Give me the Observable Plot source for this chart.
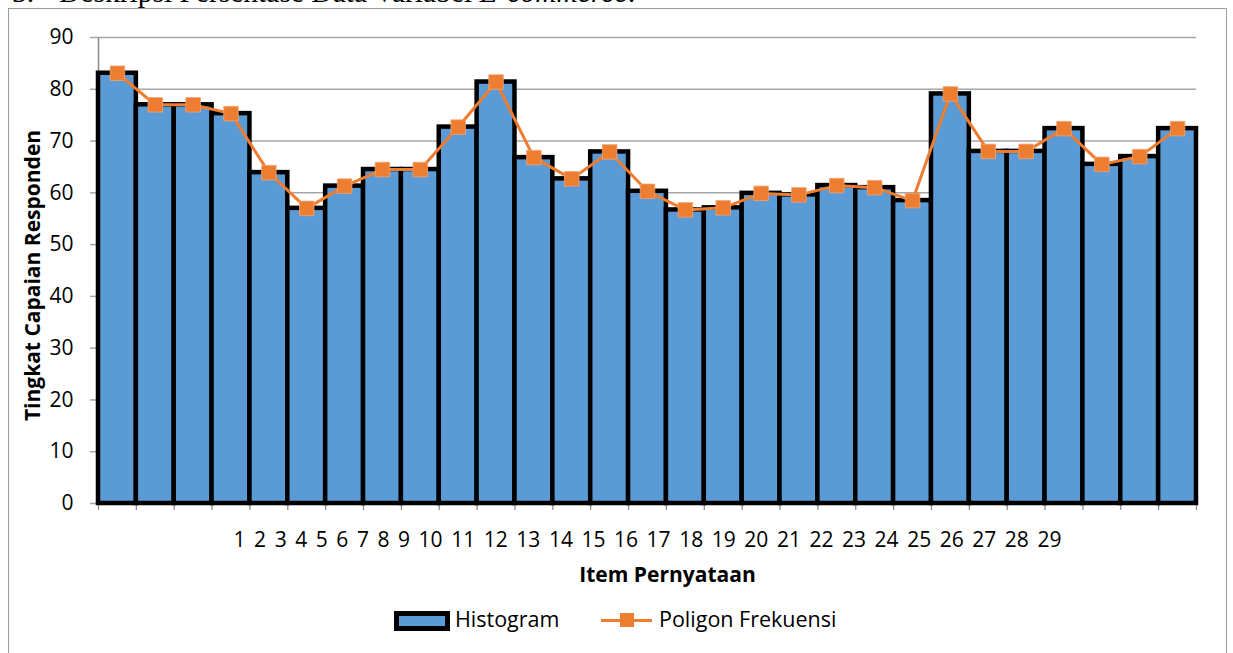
<!DOCTYPE html>
<html><head><meta charset="utf-8">
<script src="https://cdn.jsdelivr.net/npm/d3@7"></script>
<script src="https://cdn.jsdelivr.net/npm/@observablehq/plot@0.6"></script>
<style>
body{margin:0;background:#fff;}
#wrap{position:relative;width:1233px;height:653px;overflow:hidden;font-family:"Open Sans",sans-serif;color:#000;}
#head{position:absolute;left:0;top:-22px;font-family:"Liberation Serif",serif;font-size:29.5px;line-height:29.5px;white-space:pre;}
#head .n{position:absolute;left:12px;}
#head .t{position:absolute;left:59px;}
#frame{position:absolute;left:8px;top:8px;width:1217px;height:700px;border:1.5px solid #9d9d9d;}
#chart{position:absolute;left:0;top:0;}
#legend{position:absolute;left:0;top:0;width:1233px;height:653px;pointer-events:none;}
.lg{position:absolute;font-size:21.5px;line-height:24px;white-space:nowrap;}
</style></head>
<body>
<div id="wrap">
  <div id="head"><span class="n">3.</span><span class="t">Deskripsi Persentase Data Variabel <i>E-commerce</i>:</span></div>
  <div id="frame"></div>
  <div id="chart"></div>
  <div id="legend"></div>
</div>
<script>
// ---- data ----
const items = [1,2,3,4,5,6,7,8,9,10,11,12,13,14,15,16,17,18,19,20,21,22,23,24,25,26,27,28,29];
const values = [83.1,77.0,77.0,75.3,63.9,57.0,61.3,64.5,64.5,72.7,81.4,66.8,62.7,67.9,60.3,56.7,57.1,59.9,59.6,61.4,61.0,58.5,79.1,68.0,68.0,72.4,65.5,67.0,72.4];
const itemLabels = ["1","2","3","4","5","6","7","8","9","10","11","12","13","14","15","16","17","18","19","20","21","22","23","24","25","26","27","28","29"];
const yTicks = [0,10,20,30,40,50,60,70,80,90];
const seriesNames = ["Histogram","Poligon Frekuensi"];
const xTitle = "Item Pernyataan";
const yTitle = "Tingkat Capaian Responden";

const data = items.map((it,i)=>({item:it, value:values[i]}));
const boundaries = [...items.map(d=>d-0.5), items[items.length-1]+0.5];
const labelLine = itemLabels.join(" ");

const blue = "#5b9bd5", orange = "#ed7d31", grid = "#a6a6a6", axisC = "#8c8c8c";

const chart = Plot.plot({
  width:1233, height:653,
  marginLeft:98, marginRight:37, marginTop:37, marginBottom:150,
  style:{fontFamily:'"Open Sans", sans-serif', fontSize:"21px", color:"#000", background:"transparent", overflow:"visible"},
  x:{type:"linear", domain:[0.5, 29.5], axis:null},
  y:{domain:[0,90], axis:null},
  marks:[
    Plot.gridY(yTicks, {stroke:grid, strokeOpacity:1, strokeWidth:1.5}),
    Plot.axisY(yTicks, {tickSize:8, tickPadding:17, stroke:grid, strokeWidth:1.5, label:null, fontSize:21, fill:"#000"}),
    Plot.ruleX([0.5], {stroke:axisC, strokeWidth:1.5}),
    Plot.axisX(boundaries, {tickSize:7, tickFormat:()=>"", stroke:axisC, strokeWidth:1.2, label:null}),
    Plot.ruleY([0], {stroke:axisC, strokeWidth:1.5}),
    Plot.rectY(data, {x1:d=>d.item-0.5, x2:d=>d.item+0.5, y:"value", fill:blue, stroke:"#000", strokeWidth:4.5}),
    Plot.line(data, {x:"item", y:"value", stroke:orange, strokeWidth:3}),
    Plot.dot(data, {x:"item", y:"value", symbol:"square", r:8.2, fill:orange, stroke:"#f4a373", strokeWidth:0.8}),
    Plot.text([labelLine], {frameAnchor:"bottom", dy:37, fontSize:21, fill:"#000", lineAnchor:"middle"}),
    Plot.text([xTitle], {frameAnchor:"bottom", dx:20, dy:72, fontSize:21, fontWeight:"bold", fill:"#000", lineAnchor:"middle"}),
    Plot.text([yTitle], {frameAnchor:"left", textAnchor:"middle", rotate:-90, dx:-65, dy:5, fontSize:21, fontWeight:"bold", fill:"#000", lineAnchor:"middle"})
  ]
});
chart.querySelectorAll("text").forEach(t=>{ if (t.textContent === labelLine) t.style.wordSpacing = "3.1px"; });
document.getElementById("chart").appendChild(chart);

// legend
const lg = document.getElementById("legend");
lg.innerHTML = `
  <div style="position:absolute;left:394px;top:611px;width:46px;height:10px;border:5px solid #000;background:${blue};"></div>
  <div class="lg" style="left:455px;top:607px;">${seriesNames[0]}</div>
  <div style="position:absolute;left:601px;top:619px;width:51px;height:3px;background:${orange};"></div>
  <div style="position:absolute;left:620px;top:613px;width:14px;height:14px;background:${orange};"></div>
  <div class="lg" style="left:659px;top:607px;">${seriesNames[1]}</div>`;
</script>
</body></html>
